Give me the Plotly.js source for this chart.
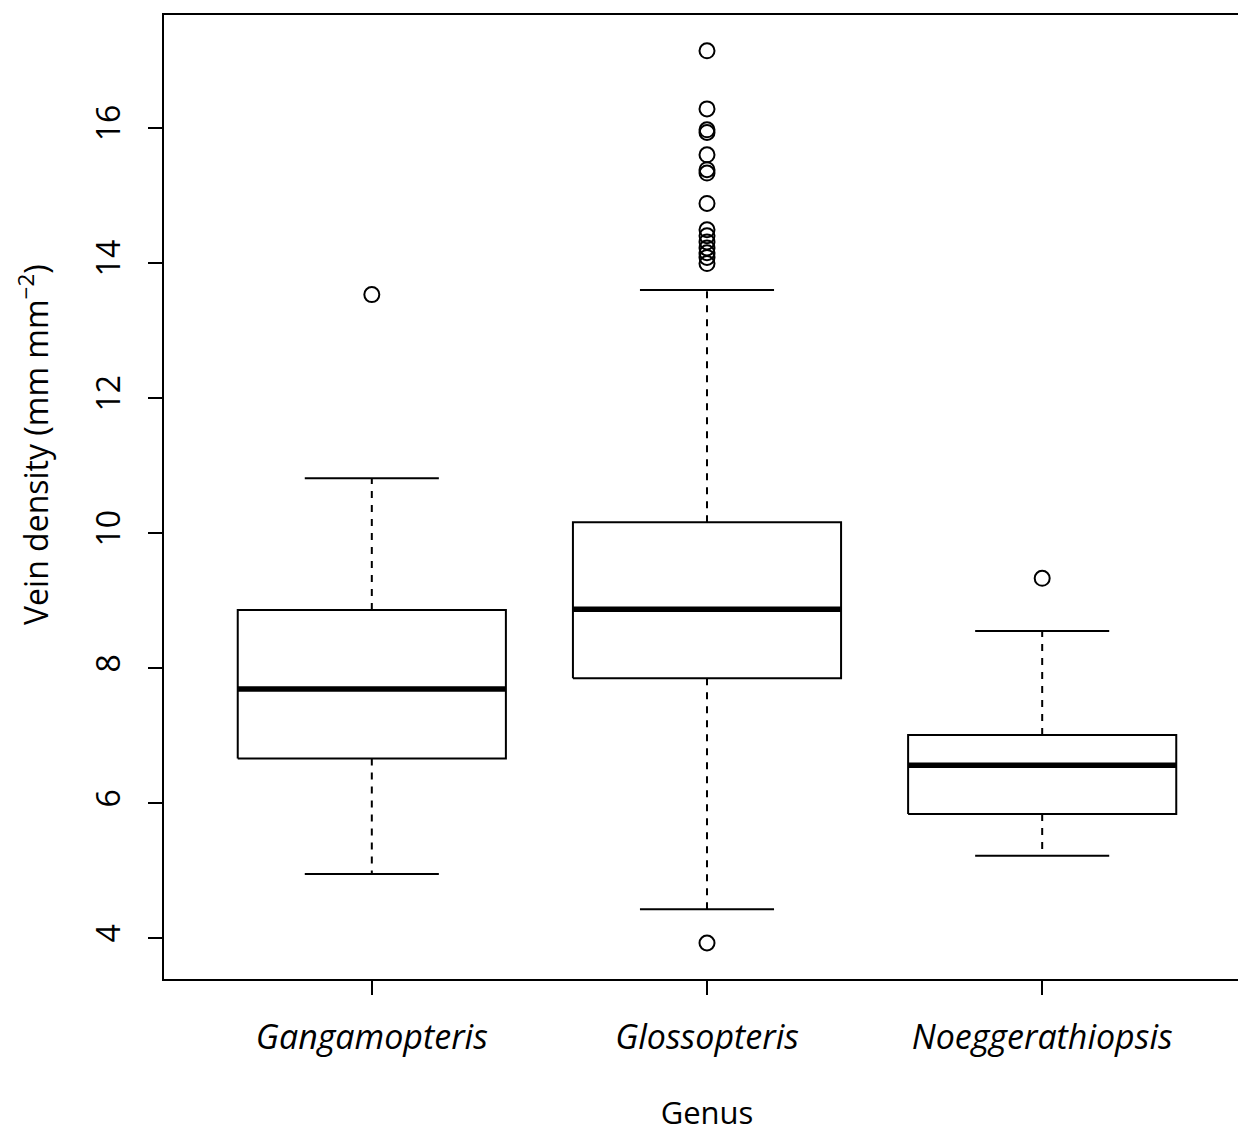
<!DOCTYPE html>
<html>
<head>
<meta charset="utf-8">
<script src="https://cdn.plot.ly/plotly-3.0.1.min.js"></script>
<style>
html, body { margin:0; padding:0; overflow:hidden; background:#fff; }
#chart { width:1250px; height:1133px; }
</style>
</head>
<body>
<div id="chart"></div>
<script>
// ---- data ----
const genera = ["Gangamopteris", "Glossopteris", "Noeggerathiopsis"];
const lowerWhisker = [4.95, 4.43, 5.22];
const q1 = [6.66, 7.85, 5.84];
const median = [7.69, 8.87, 6.56];
const q3 = [8.86, 10.16, 7.01];
const upperWhisker = [10.81, 13.60, 8.55];
const outliersGanga = [13.53];
const outliersGlosso = [17.14, 16.28, 15.97, 15.93, 15.60, 15.38, 15.33, 14.88,
                        14.49, 14.40, 14.31, 14.22, 14.15, 14.08, 13.99, 3.93];
const outliersNoeg = [9.33];
const yTicks = [4, 6, 8, 10, 12, 14, 16];
const xTitle = "Genus";
const yTitle = "Vein density (mm mm<sup>−2</sup>)";

// ---- build traces ----
const pos = genera.map((g, i) => i + 1);
const hw = 0.4, cw = 0.2;
const boxX = [], boxY = [], medX = [], medY = [], whX = [], whY = [], capX = [], capY = [];
pos.forEach((p, i) => {
  boxX.push(p - hw, p + hw, p + hw, p - hw, p - hw, null);
  boxY.push(q1[i], q1[i], q3[i], q3[i], q1[i], null);
  medX.push(p - hw, p + hw, null);
  medY.push(median[i], median[i], null);
  whX.push(p, p, null, p, p, null);
  whY.push(q3[i], upperWhisker[i], null, q1[i], lowerWhisker[i], null);
  capX.push(p - cw, p + cw, null, p - cw, p + cw, null);
  capY.push(upperWhisker[i], upperWhisker[i], null, lowerWhisker[i], lowerWhisker[i], null);
});
const outGroups = [outliersGanga, outliersGlosso, outliersNoeg];
const outX = [], outY = [];
outGroups.forEach((arr, i) => arr.forEach(v => { outX.push(pos[i]); outY.push(v); }));

const blk = '#000';
const traces = [
  {x: whX, y: whY, mode: 'lines', line: {color: blk, width: 2, dash: '7px,7px'}, hoverinfo: 'skip'},
  {x: capX, y: capY, mode: 'lines', line: {color: blk, width: 2}, hoverinfo: 'skip'},
  {x: boxX, y: boxY, mode: 'lines', line: {color: blk, width: 2}, hoverinfo: 'skip'},
  {x: medX, y: medY, mode: 'lines', line: {color: blk, width: 5.5}, hoverinfo: 'skip'},
  {x: outX, y: outY, mode: 'markers', marker: {symbol: 'circle-open', size: 15, color: blk, line: {width: 2, color: blk}}}
];

const fontFam = '"Open Sans", Lato, sans-serif';
const layout = {
  width: 1250, height: 1133,
  margin: {l: 164, r: 0, t: 15, b: 154},
  showlegend: false,
  paper_bgcolor: '#fff', plot_bgcolor: '#fff',
  font: {family: fontFam, color: '#000', size: 31},
  xaxis: {
    range: [0.38, 3.62],
    tickvals: pos, ticktext: genera,
    tickfont: {family: fontFam, size: 34, style: 'italic', color: '#000'},
    ticks: 'outside', ticklen: 14, tickwidth: 2, tickcolor: blk,
    showline: true, linewidth: 2, linecolor: blk, mirror: true,
    showgrid: false, zeroline: false,
    ticklabelstandoff: 13,
    title: {text: xTitle, font: {family: fontFam, size: 31, color: '#000'}, standoff: 45}
  },
  yaxis: {
    range: [3.397, 17.67],
    tickvals: yTicks,
    tickangle: -90,
    tickfont: {family: fontFam, size: 32, color: '#000'},
    ticks: 'outside', ticklen: 14, tickwidth: 2, tickcolor: blk,
    showline: true, linewidth: 2, linecolor: blk, mirror: true,
    showgrid: false, zeroline: false,
    ticklabelstandoff: 15
  },
  annotations: [{
    text: yTitle, xref: 'paper', yref: 'paper', x: -0.1206, y: 0.554,
    xanchor: 'center', yanchor: 'middle', textangle: -90, showarrow: false,
    font: {family: fontFam, size: 32, color: '#000'}
  }]
};
Plotly.newPlot('chart', traces, layout, {displayModeBar: false, staticPlot: true});
</script>
</body>
</html>
